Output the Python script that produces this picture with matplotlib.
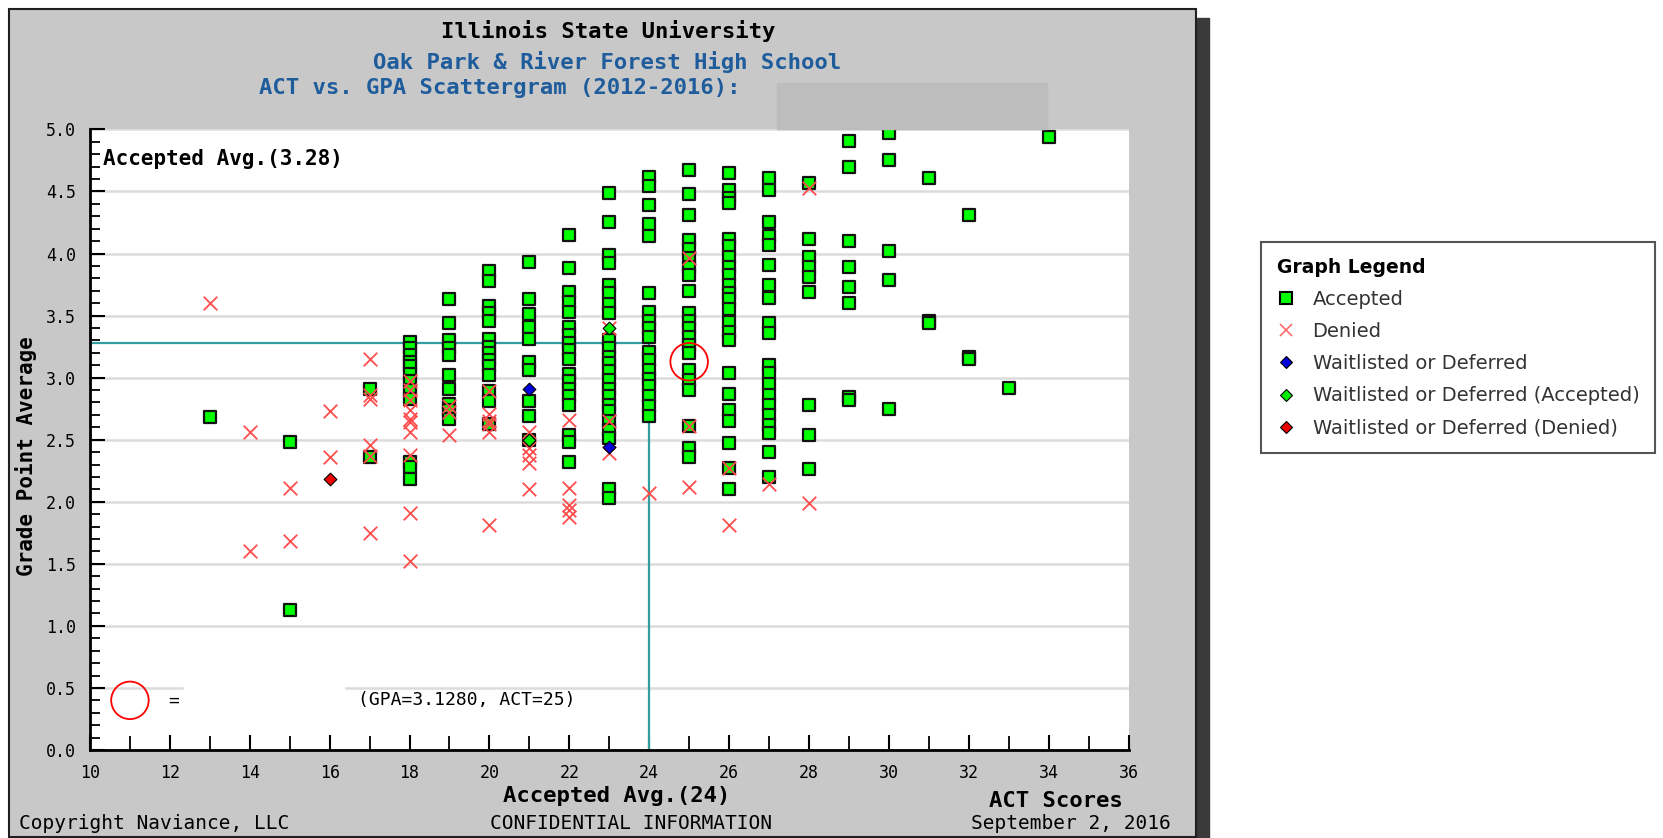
import numpy as np
import matplotlib.pyplot as plt
from matplotlib.patches import Rectangle
from matplotlib.lines import Line2D

W, H = 1663, 838

# accepted students, one GPA list per ACT column
acc_act = [13, 15, 17, 18, 19, 20, 21, 22, 23, 24, 25, 26, 27, 28, 29, 30, 31, 32, 33, 34]
acc_gpa = [
    [2.68],
    [2.48, 1.13],
    [2.91, 2.36],
    [3.29, 3.24, 3.18, 3.13, 3.09, 3.03, 2.97, 2.90, 2.83, 2.32, 2.28, 2.18],
    [3.63, 3.44, 3.30, 3.24, 3.18, 3.02, 2.91, 2.79, 2.74, 2.67],
    [3.86, 3.78, 3.58, 3.52, 3.46, 3.31, 3.25, 3.20, 3.14, 3.09, 3.02, 2.89, 2.81, 2.63],
    [3.93, 3.63, 3.51, 3.41, 3.31, 3.13, 3.06, 2.81, 2.69, 2.50],
    [4.15, 3.88, 3.69, 3.61, 3.53, 3.41, 3.34, 3.28, 3.22, 3.15, 3.03, 2.97, 2.91, 2.85,
     2.78, 2.54, 2.48, 2.32],
    [4.49, 4.25, 3.99, 3.92, 3.75, 3.68, 3.59, 3.52, 3.30, 3.24, 3.17, 3.12, 3.05, 2.98,
     2.91, 2.85, 2.78, 2.73, 2.65, 2.58, 2.51, 2.10, 2.03],
    [4.62, 4.54, 4.39, 4.24, 4.14, 3.68, 3.53, 3.46, 3.40, 3.33, 3.21, 3.14, 3.06, 2.99,
     2.93, 2.85, 2.77, 2.69],
    [4.67, 4.48, 4.31, 4.11, 4.04, 3.96, 3.89, 3.83, 3.70, 3.52, 3.46, 3.40, 3.33, 3.26,
     3.20, 3.06, 2.98, 2.90, 2.61, 2.43, 2.36],
    [4.65, 4.51, 4.45, 4.41, 4.12, 4.06, 3.97, 3.89, 3.83, 3.75, 3.68, 3.63, 3.55, 3.45,
     3.37, 3.30, 3.04, 2.87, 2.74, 2.65, 2.47, 2.27, 2.10],
    [4.61, 4.51, 4.25, 4.14, 4.07, 3.91, 3.75, 3.64, 3.44, 3.36, 3.10, 3.04, 2.95, 2.86,
     2.78, 2.70, 2.62, 2.55, 2.40, 2.20],
    [4.57, 4.12, 3.97, 3.89, 3.81, 3.69, 2.78, 2.54, 2.26],
    [4.91, 4.70, 4.10, 3.89, 3.73, 3.60, 2.84, 2.82],
    [4.97, 4.75, 4.02, 3.79, 2.75],
    [4.61, 3.46, 3.44],
    [4.31, 3.17, 3.15],
    [2.92],
    [4.94],
]

# denied students
den_act = [13, 14, 15, 16, 17, 18, 19, 20, 21, 22, 23, 24, 25, 26, 27, 28]
den_gpa = [
    [3.60],
    [2.56, 1.60],
    [2.11, 1.68],
    [2.73, 2.36],
    [3.15, 2.86, 2.83, 2.46, 2.37, 1.75],
    [2.97, 2.90, 2.82, 2.74, 2.67, 2.64, 2.56, 2.38, 1.91, 1.52],
    [2.77, 2.72, 2.54],
    [2.89, 2.71, 2.65, 2.63, 2.56, 1.81],
    [2.56, 2.43, 2.38, 2.31, 2.10],
    [2.66, 2.11, 1.97, 1.93, 1.88],
    [3.40, 2.65, 2.39],
    [2.07],
    [3.96, 2.61, 2.12],
    [2.27, 1.81],
    [2.14],
    [4.53, 1.99],
]

wl_act, wl_gpa = [21, 23], [2.91, 2.44]
wla_act, wla_gpa = [23, 21], [3.40, 2.50]
wld_act, wld_gpa = [16], [2.18]

avg_act, avg_gpa = 24, 3.28
you_act, you_gpa = 25, 3.128


def flat(cols, vals):
    xs, ys = [], []
    for c, v in zip(cols, vals):
        xs += [c] * len(v)
        ys += v
    return xs, ys


def fx(px):
    return px / W


def fy(py):
    return 1 - py / H


mono = 'DejaVu Sans Mono'
blue = '#1f5c9c'
teal = '#339d9f'

fig = plt.figure(figsize=(W / 100, H / 100), dpi=100)
fig.patch.set_facecolor('white')

# gray panel with shadow
fig.add_artist(Rectangle((fx(1196), fy(838)), 13 / W, (838 - 18) / H,
                         transform=fig.transFigure, color='#3a3a3a', zorder=-2))
fig.add_artist(Rectangle((fx(9), fy(837)), (1196 - 9) / W, (837 - 9) / H,
                         transform=fig.transFigure, facecolor='#c8c8c8',
                         edgecolor='#202020', lw=1.5, zorder=-1))

ax = fig.add_axes([fx(90), fy(750), (1128.5 - 90) / W, (750 - 129.4) / H])
ax.set_facecolor('white')
ax.set_xlim(10, 36)
ax.set_ylim(0, 5)
ax.set_xticks(np.arange(10, 37, 2))
ax.set_xticks(np.arange(10, 37, 1), minor=True)
ax.set_yticks(np.arange(0, 5.01, 0.5))
ax.set_yticks(np.arange(0, 5.01, 0.1), minor=True)
ax.yaxis.set_major_formatter('{x:.1f}')
ax.tick_params(which='both', direction='in', top=False, right=False, color='black')
ax.tick_params(which='major', length=11, width=1.5, labelsize=12, pad=10)
ax.tick_params(axis='y', which='minor', length=7, width=1.3)
ax.tick_params(axis='x', which='minor', length=10, width=1.3)
for lab in ax.get_xticklabels() + ax.get_yticklabels():
    lab.set_family(mono)
for s in ['top', 'right']:
    ax.spines[s].set_visible(False)
for s in ['left', 'bottom']:
    ax.spines[s].set_linewidth(2)
ax.grid(axis='y', which='major', color='#dcdcdc', lw=1.8)
ax.set_axisbelow(True)

# average lines
ax.plot([10, avg_act], [avg_gpa, avg_gpa], color=teal, lw=1.6, zorder=2)
ax.plot([avg_act, avg_act], [0, avg_gpa], color=teal, lw=1.6, zorder=2)

ax_x, ay = flat(acc_act, acc_gpa)
ax.scatter(ax_x, ay, marker='s', s=78, c='#00ff00', edgecolors='#111111',
           linewidths=1.6, zorder=3)
dx, dy = flat(den_act, den_gpa)
ax.scatter(dx, dy, marker='x', s=95, c='#ff4c4c', linewidths=1.3, zorder=4)
ax.scatter(wl_act, wl_gpa, marker='D', s=42, c='#0000dd', edgecolors='black',
           linewidths=0.8, zorder=5)
ax.scatter(wla_act, wla_gpa, marker='D', s=42, c='#00ee00', edgecolors='black',
           linewidths=0.8, zorder=5)
ax.scatter(wld_act, wld_gpa, marker='D', s=42, c='#ee0000', edgecolors='black',
           linewidths=0.8, zorder=5)

# applicant circle
ax.scatter([you_act], [you_gpa], marker='o', s=27 ** 2, facecolors='none',
           edgecolors='red', linewidths=1.3, zorder=6)
ax.scatter([11], [0.4], marker='o', s=27 ** 2, facecolors='none',
           edgecolors='red', linewidths=1.3, zorder=6)
ax.add_patch(Rectangle((12.35, 0.46), 4.0, 0.08, color='white', zorder=1))
ax.text(11.95, 0.4, '=', family=mono, fontsize=13, va='center')
ax.text(16.7, 0.4, '(GPA=3.1280, ACT=25)', family=mono, fontsize=13, va='center')

ax.text(10.33, 4.76, 'Accepted Avg.(3.28)', family=mono, fontsize=15,
        weight='bold', va='center')

# titles
fig.text(fx(608), fy(31), 'Illinois State University', family=mono, fontsize=16,
         weight='bold', ha='center', va='center')
fig.text(fx(607), fy(62), 'Oak Park & River Forest High School', family=mono,
         fontsize=16, weight='bold', color=blue, ha='center', va='center')
fig.text(fx(259), fy(88), 'ACT vs. GPA Scattergram (2012-2016): ', family=mono,
         fontsize=16, weight='bold', color=blue, ha='left', va='center')
fig.add_artist(Rectangle((fx(777), fy(129)), (1047 - 777) / W, (129 - 83) / H,
                         transform=fig.transFigure, color='#bdbdbd', zorder=5))

fig.text(fx(26), fy(456), 'Grade Point Average', family=mono, fontsize=15,
         weight='bold', rotation=90, ha='center', va='center')
fig.text(fx(617), fy(796), 'Accepted Avg.(24)', family=mono, fontsize=16,
         weight='bold', ha='center', va='center')
fig.text(fx(1056), fy(801), 'ACT Scores', family=mono, fontsize=16,
         weight='bold', ha='center', va='center')
fig.text(fx(19), fy(823), 'Copyright Naviance, LLC', family=mono, fontsize=14,
         ha='left', va='center')
fig.text(fx(631), fy(823), 'CONFIDENTIAL INFORMATION', family=mono, fontsize=14,
         ha='center', va='center')
fig.text(fx(1171), fy(823), 'September 2, 2016', family=mono, fontsize=14,
         ha='right', va='center')

# legend
handles = [
    Line2D([], [], ls='none', marker='s', ms=8, mfc='#00ff00', mec='black', mew=1.5),
    Line2D([], [], ls='none', marker='x', ms=8, mec='#ff6b6b', mew=1.2),
    Line2D([], [], ls='none', marker='D', ms=6, mfc='#0000dd', mec='black', mew=0.8),
    Line2D([], [], ls='none', marker='D', ms=6, mfc='#00ee00', mec='black', mew=0.8),
    Line2D([], [], ls='none', marker='D', ms=6, mfc='#ee0000', mec='black', mew=0.8),
]
labels = ['Accepted', 'Denied', 'Waitlisted or Deferred',
          'Waitlisted or Deferred (Accepted)', 'Waitlisted or Deferred (Denied)']
leg = fig.legend(handles, labels, loc='upper left', bbox_to_anchor=(fx(1261), fy(242)),
                 title='Graph Legend', alignment='left', fancybox=False,
                 edgecolor='#555555', framealpha=1, fontsize=14,
                 title_fontproperties={'weight': 'bold', 'size': 13.5},
                 labelspacing=0.68, handlelength=1.0, handletextpad=0.85,
                 borderpad=0.8, borderaxespad=0)
leg.get_frame().set_linewidth(1.5)
for t in leg.get_texts():
    t.set_color('#333333')

fig.savefig('out.png', dpi=100)
